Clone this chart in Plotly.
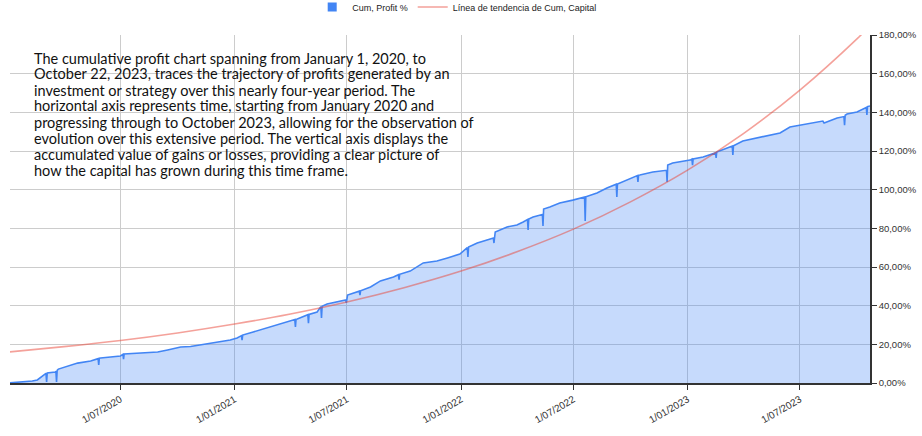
import plotly.graph_objects as go

# Cumulative profit (%) (spikes stored as day triplets)
dates = [
    "2020-01-01", "2020-01-20", "2020-02-10", "2020-02-18", "2020-02-28", "2020-03-03", "2020-03-04",
    "2020-03-05", "2020-03-18", "2020-03-19", "2020-03-20", "2020-03-21", "2020-03-23", "2020-04-07",
    "2020-04-23", "2020-05-14", "2020-05-26", "2020-05-27", "2020-05-28", "2020-05-30", "2020-06-15",
    "2020-07-01", "2020-07-05", "2020-07-06", "2020-07-07", "2020-08-02", "2020-08-30", "2020-09-15",
    "2020-10-06", "2020-10-22", "2020-11-23", "2020-12-25", "2021-01-05", "2021-01-12", "2021-01-13",
    "2021-01-14", "2021-01-31", "2021-02-28", "2021-03-20", "2021-04-08", "2021-04-09", "2021-04-10",
    "2021-04-12", "2021-04-28", "2021-04-29", "2021-04-30", "2021-05-01", "2021-05-14", "2021-05-19",
    "2021-05-20", "2021-05-21", "2021-05-22", "2021-05-30", "2021-06-15", "2021-06-29", "2021-06-30",
    "2021-07-01", "2021-07-02", "2021-07-21", "2021-07-22", "2021-07-23", "2021-08-08", "2021-08-24",
    "2021-09-14", "2021-09-22", "2021-09-23", "2021-09-24", "2021-10-11", "2021-11-01", "2021-11-23",
    "2021-12-10", "2021-12-30", "2022-01-11", "2022-01-12", "2022-01-13", "2022-01-27", "2022-02-17",
    "2022-02-22", "2022-02-23", "2022-02-24", "2022-02-25", "2022-03-16", "2022-04-01", "2022-04-11",
    "2022-04-18", "2022-04-19", "2022-04-20", "2022-04-27", "2022-05-08", "2022-05-12", "2022-05-13",
    "2022-05-14", "2022-05-24", "2022-06-09", "2022-06-30", "2022-07-19", "2022-07-20", "2022-07-21",
    "2022-08-08", "2022-08-24", "2022-09-08", "2022-09-09", "2022-09-10", "2022-09-25", "2022-10-12",
    "2022-10-13", "2022-10-14", "2022-10-16", "2022-11-06", "2022-11-28", "2022-11-29", "2022-11-30",
    "2022-12-08", "2023-01-05", "2023-01-08", "2023-01-09", "2023-01-10", "2023-01-26", "2023-02-15",
    "2023-02-16", "2023-02-17", "2023-03-10", "2023-03-14", "2023-03-15", "2023-03-16", "2023-03-31",
    "2023-04-28", "2023-05-30", "2023-06-15", "2023-07-01", "2023-08-07", "2023-08-09", "2023-08-30",
    "2023-09-10", "2023-09-11", "2023-09-12", "2023-09-15", "2023-10-01", "2023-10-16", "2023-10-17",
    "2023-10-18", "2023-10-22",
]
profit_pct = [
    0.0, 0.3, 1.0, 1.6, 4.1, 5.0, 0.5,
    5.2, 5.7, 6.0, 0.5, 6.5, 7.2, 8.8,
    10.3, 11.4, 12.6, 9.3, 12.8, 12.9, 13.4,
    14.0, 14.8, 12.4, 15.0, 15.5, 16.0, 17.1,
    18.6, 18.9, 20.7, 22.2, 23.3, 24.5, 22.2,
    24.8, 26.4, 29.0, 31.0, 32.8, 29.0, 33.0,
    33.1, 35.2, 35.3, 31.0, 35.5, 36.7, 39.3,
    39.5, 33.6, 39.7, 40.9, 41.9, 43.0, 41.4,
    45.0, 45.5, 47.5, 45.5, 47.7, 49.7, 52.8,
    54.8, 56.0, 53.5, 56.2, 57.9, 62.1, 63.1,
    64.7, 66.7, 70.0, 65.2, 70.3, 72.4, 74.5,
    75.0, 72.4, 77.8, 78.1, 80.7, 81.7, 83.3,
    84.5, 79.1, 84.8, 85.9, 86.9, 87.2, 81.2,
    90.0, 91.0, 93.1, 94.6, 96.2, 83.8, 96.3,
    98.3, 100.9, 102.8, 96.2, 102.9, 105.0, 107.3,
    104.0, 107.5, 107.6, 109.1, 110.0, 104.0, 112.7,
    113.8, 115.3, 115.8, 112.7, 115.9, 116.9, 119.0,
    116.4, 119.5, 122.1, 122.5, 117.9, 122.7, 125.2,
    127.2, 129.3, 132.4, 133.4, 135.5, 134.5, 137.1,
    137.8, 133.4, 138.5, 139.1, 140.2, 142.5, 138.6,
    143.0, 143.3,
]

# Trend line (%), read at quarter starts
trend_dates = [
    "2020-01-01", "2020-04-01", "2020-07-01", "2020-10-01", "2021-01-01", "2021-04-01",
    "2021-07-01", "2021-10-01", "2022-01-01", "2022-04-01", "2022-07-01", "2022-10-01",
    "2023-01-01", "2023-04-01", "2023-07-01", "2023-10-01", "2023-10-22",
]
trend_pct = [
    16.0, 18.8, 22.0, 25.9, 30.5, 35.7,
    41.9, 49.3, 57.9, 67.9, 79.6, 93.7,
    110.1, 129.0, 151.5, 178.0, 184.8,
]

y_ticks = [0, 0.2, 0.4, 0.6, 0.8, 1.0, 1.2, 1.4, 1.6, 1.8]

description_lines = [
    "The cumulative profit chart spanning from January 1, 2020, to",
    "October 22, 2023, traces the trajectory of profits generated by an",
    "investment or strategy over this nearly four-year period. The",
    "horizontal axis represents time, starting from January 2020 and",
    "progressing through to October 2023, allowing for the observation of",
    "evolution over this extensive period. The vertical axis displays the",
    "accumulated value of gains or losses, providing a clear picture of",
    "how the capital has grown during this time frame.",
]

W, H = 922, 436
ML, MR, MT, MB = 10, 52, 35, 53
PH = H - MT - MB
PW = W - ML - MR

fig = go.Figure()
fig.add_trace(go.Scatter(
    x=dates, y=[v / 100 for v in profit_pct], name="Cum, Profit %",
    mode="lines", line=dict(color="#4285F4", width=1.6),
    fill="tozeroy", fillcolor="rgba(66,133,244,0.30)", showlegend=False,
))
# legend-only entry with a square swatch
fig.add_trace(go.Scatter(
    x=[None], y=[None], name="Cum, Profit %", mode="markers",
    marker=dict(symbol="square", size=9, color="#4285F4"),
))
fig.add_trace(go.Scatter(
    x=trend_dates, y=[v / 100 for v in trend_pct], name="Línea de tendencia de Cum, Capital",
    mode="lines", line=dict(color="rgba(234,67,53,0.5)", width=1.6, shape="spline"),
))

annotations = []
for i, line in enumerate(description_lines):
    y_px = 58 + i * 16.0
    annotations.append(dict(
        text=line, xref="paper", yref="paper",
        x=(32 - ML) / PW, y=(H - MB - y_px) / PH,
        xanchor="left", yanchor="middle", align="left", showarrow=False,
        font=dict(family="Lato, sans-serif", size=14.5, color="#111"),
    ))

fig.update_layout(
    width=W, height=H,
    margin=dict(l=ML, r=MR, t=MT, b=MB, autoexpand=False),
    paper_bgcolor="white", plot_bgcolor="white",
    separators=",.",
    font=dict(family="Liberation Sans, Arial, sans-serif", size=10, color="#222"),
    showlegend=True,
    legend=dict(orientation="h", x=0.52, xanchor="center", y=1 + (MT - 7) / PH,
                yanchor="middle", font=dict(size=9, color="#222"),
                traceorder="normal", itemwidth=30),
    annotations=annotations,
)
fig.update_xaxes(
    type="date", range=["2020-01-05", "2023-10-22"], automargin=False,
    tick0="2020-01-01", dtick="M6", tickformat="%-d/%m/%Y", tickangle=-30,
    showgrid=True, gridcolor="#cccccc", gridwidth=1,
    showline=True, linecolor="#333333", linewidth=2,
    ticks="outside", ticklen=5, tickcolor="#333333",
    tickfont=dict(size=10, color="#333"),
)
fig.update_yaxes(
    side="right", range=[0, 1.8], tickvals=y_ticks, tickformat=".2%", automargin=False,
    showgrid=True, gridcolor="#cccccc", gridwidth=1,
    showline=True, linecolor="#333333", linewidth=1.5,
    ticks="outside", ticklen=5, tickcolor="#333333",
    tickfont=dict(size=9.5, color="#333"), zeroline=False,
)

fig.write_html("out.html", config={"displayModeBar": False},
               post_script="document.body.style.margin='0';")
